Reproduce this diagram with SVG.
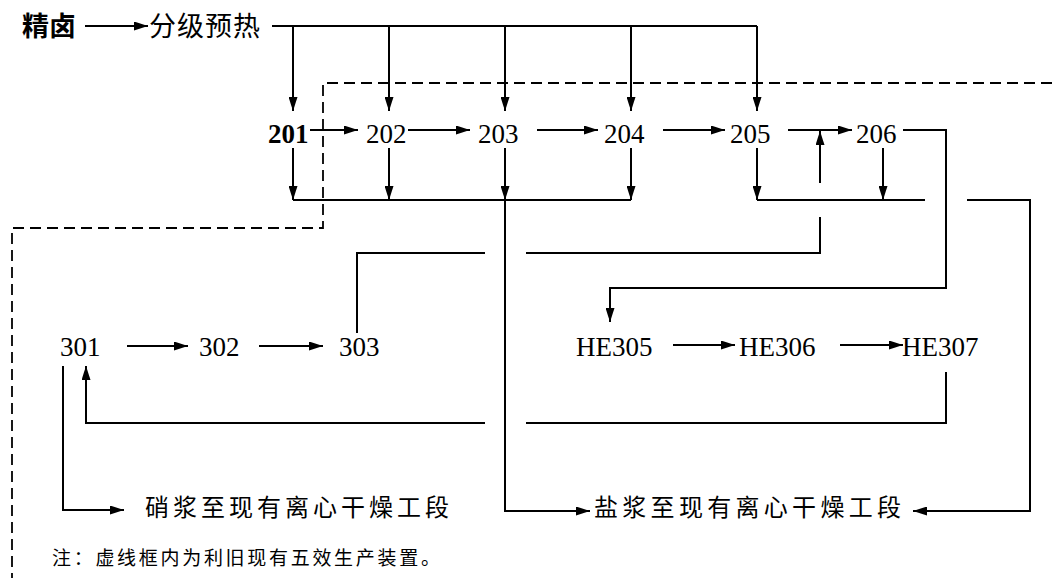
<svg xmlns="http://www.w3.org/2000/svg" width="1052" height="578" viewBox="0 0 1052 578">
<style>
.c{fill:none;stroke:#000;stroke-width:2}
.a{marker-end:url(#ah)}
.d{fill:none;stroke:#000;stroke-width:1.8;stroke-dasharray:11 6}
.n{font-family:"Liberation Serif","Times New Roman",serif;font-size:27px;fill:#000}
.b{font-weight:bold}
.h{font-family:"Noto Sans CJK SC","Noto Sans",sans-serif;fill:#000}
</style>
<defs>
<marker id="ah" markerUnits="userSpaceOnUse" markerWidth="14" markerHeight="9" refX="14" refY="4.5" orient="auto">
<path d="M0,0 L14,4.5 L0,9 z" fill="#000"/>
</marker>
</defs>
<rect width="1052" height="578" fill="#fff"/>
<g id="connectors">
<path class="d" d="M1052,83 H323 V228 H12 V578"/>
<path class="c a" d="M85,26 H148"/>
<path class="c" d="M272,26 H757"/>
<path class="c a" d="M293,26 V111"/>
<path class="c a" d="M389,26 V111"/>
<path class="c a" d="M505,26 V111"/>
<path class="c a" d="M631,26 V111"/>
<path class="c a" d="M757,26 V111"/>
<path class="c a" d="M310,130 H358"/>
<path class="c a" d="M408,130 H470"/>
<path class="c a" d="M537,130 H598"/>
<path class="c a" d="M663,130 H725"/>
<path class="c a" d="M788,130 H852"/>
<path class="c a" d="M820,183 V131"/>
<path class="c a" d="M903,130 H946 V288 H610 V322"/>
<path class="c a" d="M293,148 V200"/>
<path class="c a" d="M389,148 V200"/>
<path class="c a" d="M505,148 V200"/>
<path class="c a" d="M631,148 V200"/>
<path class="c a" d="M757,148 V200"/>
<path class="c a" d="M883,148 V200"/>
<path class="c" d="M293,200 H631"/>
<path class="c" d="M757,200 H925"/>
<path class="c a" d="M967,200 H1030 V511 H913"/>
<path class="c a" d="M505,200 V511 H590"/>
<path class="c" d="M820,217 V253 H526"/>
<path class="c" d="M485,253 H357 V333"/>
<path class="c a" d="M127,346 H188"/>
<path class="c a" d="M259,346 H323"/>
<path class="c a" d="M673,345 H735"/>
<path class="c a" d="M840,345 H903"/>
<path class="c" d="M946,372 V423 H526"/>
<path class="c a" d="M485,423 H86 V366"/>
<path class="c a" d="M63,366 V510 H124"/>
</g>
<g id="n-jinglu"><text class="h b" x="22" y="36" font-size="27">精卤</text></g>
<g id="n-yure"><text class="h" x="149" y="36" font-size="27" letter-spacing="1">分级预热</text></g>
<g id="n201"><text class="n b" x="268" y="143">201</text></g>
<g id="n202"><text class="n" x="366" y="143">202</text></g>
<g id="n203"><text class="n" x="478" y="143">203</text></g>
<g id="n204"><text class="n" x="604" y="143">204</text></g>
<g id="n205"><text class="n" x="730" y="143">205</text></g>
<g id="n206"><text class="n" x="856" y="143">206</text></g>
<g id="n301"><text class="n" x="60" y="356">301</text></g>
<g id="n302"><text class="n" x="199" y="356">302</text></g>
<g id="n303"><text class="n" x="339" y="356">303</text></g>
<g id="nHE305"><text class="n" x="576" y="356">HE305</text></g>
<g id="nHE306"><text class="n" x="739" y="356">HE306</text></g>
<g id="nHE307"><text class="n" x="902" y="356">HE307</text></g>
<g id="n-xiaojiang"><text class="h" x="145" y="516" font-size="24" letter-spacing="4">硝浆至现有离心干燥工段</text></g>
<g id="n-yanjiang"><text class="h" x="594" y="516" font-size="24" letter-spacing="4.3">盐浆至现有离心干燥工段</text></g>
<g id="note"><text class="h" x="52" y="565" font-size="19" letter-spacing="2.7">注：虚线框内为利旧现有五效生产装置。</text></g>
</svg>
